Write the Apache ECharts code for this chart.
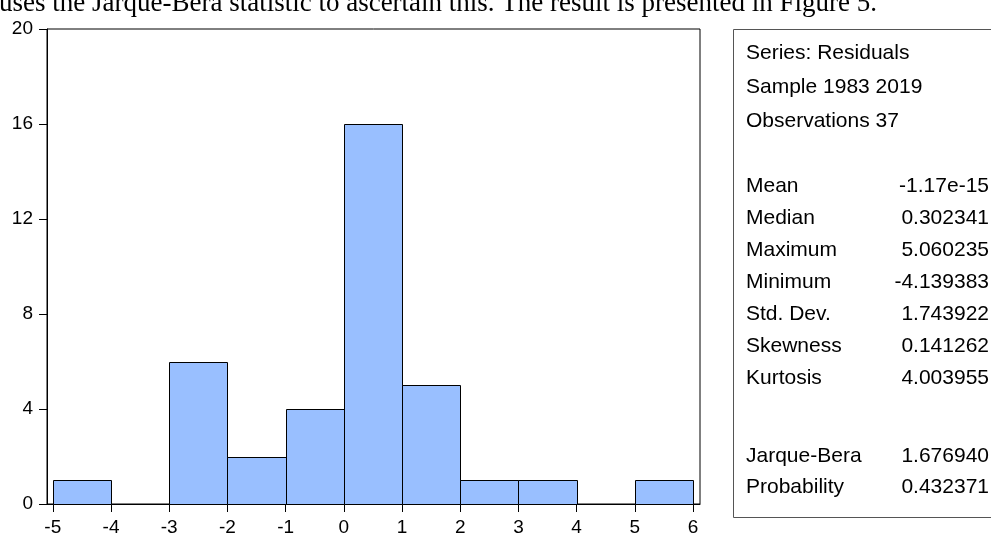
<!DOCTYPE html>
<html>
<head>
<meta charset="utf-8">
<style>
  html, body { margin: 0; padding: 0; background: #ffffff; }
  #chart { width: 991px; height: 537px; }
</style>
<script src="https://cdn.jsdelivr.net/npm/echarts@6/dist/echarts.min.js"></script>
</head>
<body>
<div id="chart"></div>
<script>
// Histogram of residuals: bin lower edges (width 1) and frequencies
var binStarts = [-5, -4, -3, -2, -1, 0, 1, 2, 3, 4, 5];
var binWidth = 1;
var counts = [1, 0, 6, 2, 4, 16, 5, 1, 1, 0, 1];

var xTicks = [-5, -4, -3, -2, -1, 0, 1, 2, 3, 4, 5, 6];
var yTicks = [0, 4, 8, 12, 16, 20];

// Descriptive statistics panel
var headerLines = ['Series: Residuals', 'Sample 1983 2019', 'Observations 37'];
var statNames = ['Mean', 'Median', 'Maximum', 'Minimum', 'Std. Dev.', 'Skewness', 'Kurtosis'];
var statValues = ['-1.17e-15', '0.302341', '5.060235', '-4.139383', '1.743922', '0.141262', '4.003955'];
var testNames = ['Jarque-Bera', 'Probability'];
var testValues = ['1.676940', '0.432371'];

var caption = 'uses the Jarque-Bera statistic to ascertain this. The result is presented in Figure 5.';

var chart = echarts.init(document.getElementById('chart'), null, { renderer: 'canvas' });

var histData = binStarts.map(function (s, i) { return [s, s + binWidth, counts[i]]; });

var sans = 'Arial, "Liberation Sans", sans-serif';
var textStyle = { font: '21px ' + sans, fill: '#000', verticalAlign: 'middle' };

var graphics = [];
graphics.push({
  type: 'text', x: -1, y: 17, silent: true,
  style: { text: caption, font: '27px "Liberation Serif", "Times New Roman", serif',
           fill: '#000', verticalAlign: 'bottom' }
});
// statistics box
graphics.push({
  type: 'rect', shape: { x: 733.5, y: 29.5, width: 300, height: 488 },
  style: { fill: '#fff', stroke: '#555', lineWidth: 1 }, silent: true
});
var lineY = [53, 87, 121];
headerLines.forEach(function (t, i) {
  graphics.push({ type: 'text', x: 746, y: lineY[i], silent: true,
    style: Object.assign({ text: t }, textStyle) });
});
var statY = [186, 218, 250, 282, 314, 346, 378];
statNames.forEach(function (t, i) {
  graphics.push({ type: 'text', x: 746, y: statY[i], silent: true,
    style: Object.assign({ text: t }, textStyle) });
  graphics.push({ type: 'text', x: 989, y: statY[i], silent: true,
    style: Object.assign({ text: statValues[i], align: 'right' }, textStyle) });
});
var testY = [456, 487];
testNames.forEach(function (t, i) {
  graphics.push({ type: 'text', x: 746, y: testY[i], silent: true,
    style: Object.assign({ text: t }, textStyle) });
  graphics.push({ type: 'text', x: 989, y: testY[i], silent: true,
    style: Object.assign({ text: testValues[i], align: 'right' }, textStyle) });
});

var option = {
  backgroundColor: '#ffffff',
  animation: false,
  grid: {
    left: 47, top: 29, right: 291, bottom: 32,
    show: true, borderColor: '#000', borderWidth: 1, backgroundColor: 'transparent'
  },
  xAxis: {
    type: 'value', min: -5.1, max: 6.12,
    axisLine: { show: true, onZero: false, lineStyle: { color: '#000', width: 1 } },
    axisTick: { show: true, length: 8, customValues: xTicks, lineStyle: { color: '#000' } },
    axisLabel: { customValues: xTicks, color: '#000', fontFamily: sans, fontSize: 19, margin: 14 },
    splitLine: { show: false }
  },
  yAxis: {
    type: 'value', min: 0, max: 20, interval: 4,
    axisLine: { show: true, onZero: false, lineStyle: { color: '#000', width: 1 } },
    axisTick: { show: true, length: 8, lineStyle: { color: '#000' } },
    axisLabel: { color: '#000', fontFamily: sans, fontSize: 19, margin: 14,
      formatter: function (v) { return yTicks.indexOf(v) >= 0 ? String(v) : ''; } },
    splitLine: { show: false }
  },
  series: [{
    type: 'custom',
    data: histData,
    encode: { x: [0, 1], y: 2 },
    renderItem: function (params, api) {
      if (api.value(2) <= 0) return null;
      var p0 = api.coord([api.value(0), 0]);
      var p1 = api.coord([api.value(1), api.value(2)]);
      return {
        type: 'rect',
        shape: { x: Math.round(p0[0]) + 0.5, y: Math.round(p1[1]) + 0.5,
                 width: Math.round(p1[0]) - Math.round(p0[0]),
                 height: Math.round(p0[1]) - Math.round(p1[1]) },
        style: { fill: '#99BFFF', stroke: '#000', lineWidth: 1 }
      };
    }
  }],
  graphic: graphics
};
chart.setOption(option);
</script>
</body>
</html>
